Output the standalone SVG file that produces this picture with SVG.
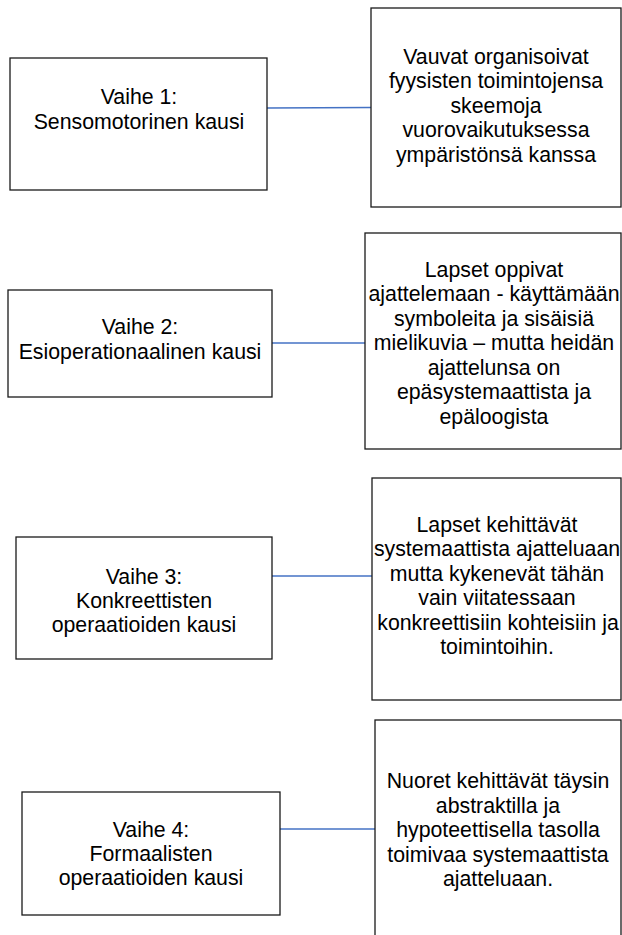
<svg xmlns="http://www.w3.org/2000/svg" width="622" height="935" viewBox="0 0 622 935">
  <style>
    .box { fill: #ffffff; stroke: #1a1a1a; stroke-width: 1.3; }
    .lbl { font-family: "Liberation Sans", Arial, sans-serif; font-size: 21.3px; fill: #000000; text-anchor: middle; }
    .link { stroke: #4472c4; stroke-width: 1.3; fill: none; }
  </style>
  <rect width="622" height="935" fill="#ffffff"/>

  <!-- horizontal links between each stage and its description -->
  <g id="connectors">
    <line class="link" x1="267" y1="108" x2="371" y2="107.5"/>
    <line class="link" x1="272" y1="343" x2="365" y2="343"/>
    <line class="link" x1="272" y1="576" x2="372" y2="576"/>
    <line class="link" x1="280" y1="829" x2="375" y2="829"/>
  </g>

  <g id="stage1">
    <rect class="box" x="10" y="58" width="257" height="132"/>
    <text class="lbl" x="139" y="104.3">Vaihe 1:</text>
    <text class="lbl" x="139" y="128.8">Sensomotorinen kausi</text>
  </g>
  <g id="desc1">
    <rect class="box" x="371" y="8" width="250" height="199"/>
    <text class="lbl" x="496" y="63.5">Vauvat organisoivat</text>
    <text class="lbl" x="496" y="88">fyysisten toimintojensa</text>
    <text class="lbl" x="496" y="112.5">skeemoja</text>
    <text class="lbl" x="496" y="137">vuorovaikutuksessa</text>
    <text class="lbl" x="496" y="161.5">ympäristönsä kanssa</text>
  </g>

  <g id="stage2">
    <rect class="box" x="8" y="290" width="264" height="107"/>
    <text class="lbl" x="140" y="334.4">Vaihe 2:</text>
    <text class="lbl" x="140" y="358.9">Esioperationaalinen kausi</text>
  </g>
  <g id="desc2">
    <rect class="box" x="365" y="233" width="256" height="216"/>
    <text class="lbl" x="494" y="276.6">Lapset oppivat</text>
    <text class="lbl" x="494" y="301.1">ajattelemaan - käyttämään</text>
    <text class="lbl" x="494" y="325.6">symboleita ja sisäisiä</text>
    <text class="lbl" x="494" y="350.1">mielikuvia – mutta heidän</text>
    <text class="lbl" x="494" y="374.6">ajattelunsa on</text>
    <text class="lbl" x="494" y="399.1">epäsystemaattista ja</text>
    <text class="lbl" x="494" y="423.6">epäloogista</text>
  </g>

  <g id="stage3">
    <rect class="box" x="16" y="537" width="256" height="122"/>
    <text class="lbl" x="144" y="584">Vaihe 3:</text>
    <text class="lbl" x="144" y="608">Konkreettisten</text>
    <text class="lbl" x="144" y="632">operaatioiden kausi</text>
  </g>
  <g id="desc3">
    <rect class="box" x="372" y="478" width="249" height="222"/>
    <text class="lbl" x="497" y="531.9">Lapset kehittävät</text>
    <text class="lbl" x="497" y="556.4">systemaattista ajatteluaan</text>
    <text class="lbl" x="497" y="580.9">mutta kykenevät tähän</text>
    <text class="lbl" x="497" y="605.4">vain viitatessaan</text>
    <text class="lbl" x="498" y="629.9">konkreettisiin kohteisiin ja</text>
    <text class="lbl" x="497" y="654.4">toimintoihin.</text>
  </g>

  <g id="stage4">
    <rect class="box" x="22" y="792" width="258" height="123"/>
    <text class="lbl" x="151" y="836.6">Vaihe 4:</text>
    <text class="lbl" x="151" y="860.8">Formaalisten</text>
    <text class="lbl" x="151" y="885">operaatioiden kausi</text>
  </g>
  <g id="desc4">
    <rect class="box" x="375" y="720" width="246" height="220"/>
    <text class="lbl" x="498" y="788.1">Nuoret kehittävät täysin</text>
    <text class="lbl" x="498" y="812.6">abstraktilla ja</text>
    <text class="lbl" x="498" y="837.1">hypoteettisella tasolla</text>
    <text class="lbl" x="498" y="861.6">toimivaa systemaattista</text>
    <text class="lbl" x="498" y="886.1">ajatteluaan.</text>
  </g>
</svg>
